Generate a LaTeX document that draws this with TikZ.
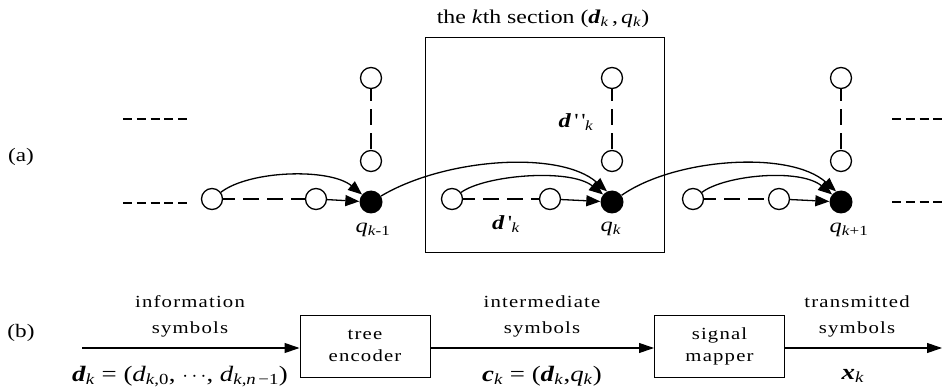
\documentclass[tikz,border=0pt]{standalone}
\usepackage{fontspec}
\setmainfont{Liberation Serif}[FakeStretch=1.22]
\newfontfamily\spacedfont{Liberation Serif}[FakeStretch=1.22,LetterSpace=7]
\usetikzlibrary{arrows.meta}
\newcommand\bv[1]{\textbf{\textit{#1}}}
\newcommand\sbs[1]{\textsubscript{#1}}
\begin{document}
\begin{tikzpicture}[x=1pt,y=-1pt,
  oc/.style={circle,draw,line width=1.3pt,minimum size=21pt,inner sep=0pt,fill=white},
  fc/.style={circle,fill=black,minimum size=23pt,inner sep=0pt},
  arr/.style={line width=1.3pt,-{Triangle[length=14pt,width=11pt]}},
  barr/.style={line width=1.1pt,-{Triangle[length=15pt,width=10pt]}},
  dsh/.style={line width=1.3pt,dash pattern=on 16pt off 8pt,dash phase=4pt},
  ends/.style={line width=1.8pt,dash pattern=on 9pt off 4.75pt},
  lbl/.style={inner sep=0pt,font=\fontsize{20}{22}\selectfont},
  blk/.style={draw,line width=1pt,minimum width=130pt,minimum height=62pt,inner sep=0pt,align=center,font=\spacedfont\fontsize{17}{22}\selectfont},
  sp/.style={inner sep=0pt,align=center,font=\spacedfont\fontsize{17}{26}\selectfont},
  fm/.style={inner sep=0pt,anchor=base,font=\fontsize{22}{24}\selectfont},
  ]
\useasboundingbox (0,0) rectangle (944,387);

% section box
\node[draw,line width=0.9pt,minimum width=239pt,minimum height=215pt,inner sep=0pt] (sec) at (544.5,144.5) {};
\node[lbl,font=\fontsize{19.5}{22}\selectfont] (title) at (543,19) {the \textit{k}th section (\bv{d}\sbs{\textit{k}}\,,\,\textit{q}\sbs{\textit{k}})};

% labels (a),(b)
\node[lbl,font=\fontsize{19}{21}\selectfont] (la) at (21,157) {(a)};
\node[lbl,font=\fontsize{19}{21}\selectfont] (lb) at (21,333) {(b)};

% continuation dashes
\coordinate (lt1) at (123,119); \coordinate (lt2) at (187,119);
\coordinate (lb1) at (123,203); \coordinate (lb2) at (187,203);
\coordinate (rt1) at (892,119); \coordinate (rt2) at (944,119);
\coordinate (rb1) at (892,202); \coordinate (rb2) at (944,202);
\draw[ends] (lt1) -- (lt2);
\draw[ends] (lb1) -- (lb2);
\draw[ends] (rt1) -- (rt2);
\draw[ends] (rb1) -- (rb2);

% section k-1
\node[oc] (a1) at (212,199) {};
\node[oc] (a2) at (316,199) {};
\node[fc] (q1) at (371,202) {};
\node[oc] (u1) at (371,78) {};
\node[oc] (v1) at (371,161) {};
% section k
\node[oc] (b1) at (452,199) {};
\node[oc] (b2) at (550,199) {};
\node[fc] (q2) at (612,202) {};
\node[oc] (u2) at (612,78) {};
\node[oc] (v2) at (612,161) {};
% section k+1
\node[oc] (c1) at (693,199) {};
\node[oc] (c2) at (779,199) {};
\node[fc] (q3) at (841,202) {};
\node[oc] (u3) at (841,78) {};
\node[oc] (v3) at (841,161) {};

\draw[dsh] (a1) -- (a2);
\draw[dsh] (b1) -- (b2);
\draw[dsh] (c1) -- (c2);
\draw[dsh] (u1) -- (v1);
\draw[dsh] (u2) -- (v2);
\draw[dsh] (u3) -- (v3);
\draw[arr] (a2) -- (q1);
\draw[arr] (b2) -- (q2);
\draw[arr] (c2) -- (q3);

% arcs
\draw[arr] (a1) .. controls (250,170) and (330,168) .. (q1.140);
\draw[arr] (q1) .. controls (445,158) and (560,150) .. (q2.115);
\draw[arr] (b1) .. controls (485,175) and (570,168) .. (q2.140);
\draw[arr] (q2) .. controls (675,158) and (790,150) .. (q3.115);
\draw[arr] (c1) .. controls (725,175) and (800,168) .. (q3.140);

% labels in (a)
\node[lbl] (lq1) at (373,230) {\textit{q}\sbs{\textit{k}-1}};
\node[lbl] (lq2) at (611,229) {\textit{q}\sbs{\textit{k}}};
\node[lbl] (lq3) at (849,230) {\textit{q}\sbs{\textit{k}+1}};
\node[lbl] (ld1) at (506,224) {\bv{d}\,\textquotesingle\sbs{\textit{k}}};
\node[lbl] (ld2) at (576,122) {\bv{d}\,\textquotesingle\,\textquotesingle\sbs{\textit{k}}};

% (b) block diagram
\coordinate (in) at (82,348);
\node[blk] (enc) at (365,346) {tree\\encoder};
\node[blk] (map) at (719.5,346) {signal\\mapper};
\coordinate (out) at (942,348);
\draw[barr] (in) -- (in -| enc.west);
\draw[barr] (in -| enc.east) -- (in -| map.west);
\draw[barr] (in -| map.east) -- (out);

\node[sp] (t1) at (190,316) {information\\symbols};
\node[sp] (t2) at (542,316) {intermediate\\symbols};
\node[sp] (t3) at (857,316) {transmitted\\symbols};
\node[fm] (f1) at (180,381) {\bv{d}\sbs{\textit{k}} = (\textit{d}\sbs{\textit{k},0}, $\cdots$, \textit{d}\sbs{\textit{k},\textit{n}\,−1})};
\node[fm] (f2) at (542,381) {\bv{c}\sbs{\textit{k}} = (\bv{d}\sbs{\textit{k}},\textit{q}\sbs{\textit{k}})};
\node[fm] (f3) at (853,379) {\bv{x}\sbs{\textit{k}}};
\end{tikzpicture}
\end{document}
